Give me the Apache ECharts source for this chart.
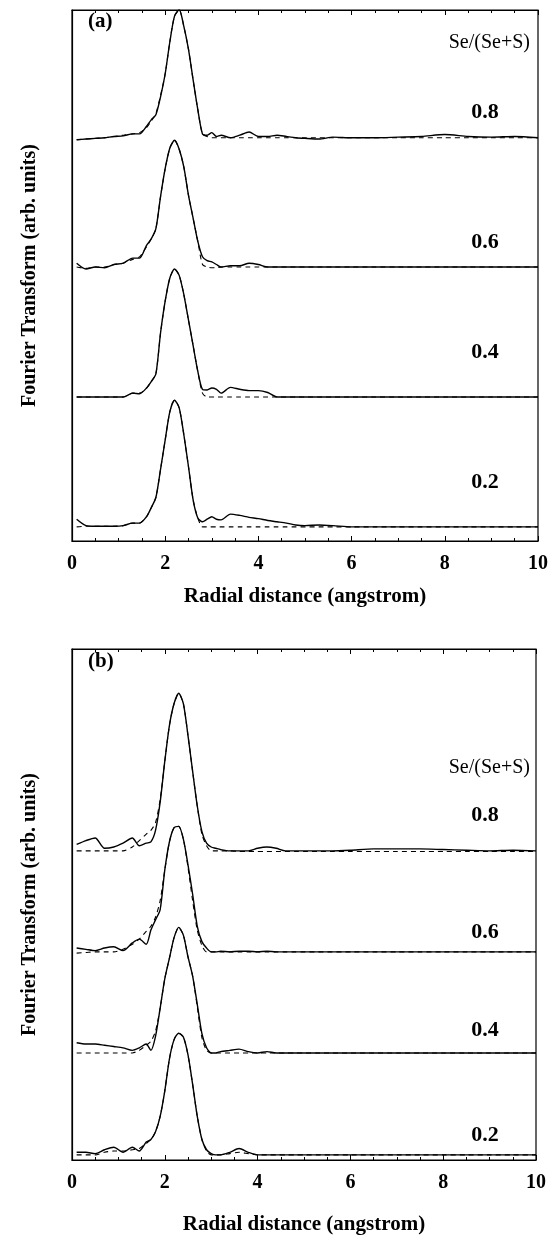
<!DOCTYPE html>
<html>
<head>
<meta charset="utf-8">
<script src="https://cdn.jsdelivr.net/npm/echarts@6/dist/echarts.min.js"></script>
<style>
html,body{margin:0;padding:0;background:#fff;}
#c{width:556px;height:1242px;}
</style>
</head>
<body>
<div id="c"></div>
<script>
// Radial distance grid (angstrom)
const R = [0.1,0.3,0.5,0.7,0.9,1.1,1.3,1.45,1.6,1.7,1.8,1.9,2.0,2.1,2.2,2.3,2.4,2.5,2.6,2.7,2.8,2.9,3.0,3.1,3.2,3.4,3.6,3.8,4.0,4.2,4.4,4.6,4.8,5.0,5.3,5.6,6.0,6.5,7.0,7.5,8.0,8.5,9.0,9.5,10.0];
const xTicks = [0,2,4,6,8,10];
const compositions = ['0.8','0.6','0.4','0.2'];

// Panel (a): FT magnitude (arb. units), data (solid) and fit (dashed)
const a08 = [-0.015,-0.01,-0.005,0.0,0.01,0.015,0.03,0.03,0.09,0.14,0.18,0.32,0.5,0.75,0.95,1.0,0.87,0.69,0.45,0.22,0.03,0.02,0.04,0.01,0.02,0.0,0.02,0.045,0.01,0.01,0.02,0.01,0.0,-0.005,-0.01,0.005,0.0,0.0,0.005,0.01,0.025,0.01,0.005,0.01,0.0];
const a08fit = [-0.015,-0.01,-0.005,0.0,0.01,0.02,0.03,0.04,0.08,0.13,0.19,0.33,0.5,0.75,0.95,1.0,0.87,0.69,0.45,0.22,0.03,0.01,0.0,0.0,0.0,0.0,0.0,0.0,0.0,0.0,0.0,0.0,0.0,0.0,0.0,0.0,0.0,0.0,0.0,0.0,0.0,0.0,0.0,0.0,0.0];
const a06 = [0.03,-0.015,0.0,-0.005,0.02,0.03,0.07,0.07,0.17,0.22,0.3,0.55,0.77,0.93,0.99,0.92,0.78,0.56,0.38,0.2,0.08,0.05,0.04,0.02,0.0,0.01,0.01,0.03,0.02,0.0,0.0,0.0,0.0,0.0,0.0,0.0,0.0,0.0,0.0,0.0,0.0,0.0,0.0,0.0,0.0];
const a06fit = [0.0,-0.01,0.0,0.0,0.02,0.03,0.06,0.08,0.16,0.22,0.3,0.55,0.77,0.93,0.99,0.92,0.78,0.56,0.38,0.2,0.02,0.0,-0.005,-0.005,0.0,0.0,0.0,0.0,0.0,0.0,0.0,0.0,0.0,0.0,0.0,0.0,0.0,0.0,0.0,0.0,0.0,0.0,0.0,0.0,0.0];
const a04 = [0.0,0.0,0.0,0.0,0.0,0.0,0.03,0.025,0.07,0.12,0.18,0.5,0.75,0.93,1.0,0.95,0.8,0.6,0.4,0.2,0.06,0.055,0.07,0.06,0.03,0.075,0.06,0.05,0.05,0.035,0.0,0.0,0.0,0.0,0.0,0.0,0.0,0.0,0.0,0.0,0.0,0.0,0.0,0.0,0.0];
const a04fit = [0.0,0.0,0.0,0.0,0.0,0.0,0.03,0.03,0.07,0.12,0.18,0.5,0.75,0.93,1.0,0.95,0.8,0.6,0.4,0.2,0.03,0.0,0.0,0.0,0.0,0.0,0.0,0.0,0.0,0.0,0.0,0.0,0.0,0.0,0.0,0.0,0.0,0.0,0.0,0.0,0.0,0.0,0.0,0.0,0.0];
const a02 = [0.06,0.01,0.005,0.005,0.005,0.01,0.03,0.03,0.08,0.15,0.23,0.45,0.68,0.9,0.99,0.93,0.72,0.47,0.21,0.07,0.04,0.06,0.08,0.06,0.055,0.1,0.09,0.075,0.065,0.05,0.04,0.03,0.015,0.01,0.015,0.01,0.0,0.0,0.0,0.0,0.0,0.0,0.0,0.0,0.0];
const a02fit = [0.0,0.005,0.005,0.005,0.005,0.01,0.03,0.03,0.08,0.15,0.23,0.45,0.68,0.9,0.99,0.93,0.72,0.47,0.21,0.07,0.0,0.0,0.0,0.0,0.0,0.0,0.0,0.0,0.0,0.0,0.0,0.0,0.0,0.0,0.0,0.0,0.0,0.0,0.0,0.0,0.0,0.0,0.0,0.0,0.0];
const aOffsets = [3.15,2.14,1.125,0.11];

// Panel (b)
const b08 = [0.05,0.08,0.1,0.02,0.03,0.06,0.1,0.04,0.06,0.07,0.16,0.38,0.7,0.98,1.15,1.23,1.15,0.9,0.62,0.35,0.15,0.06,0.03,0.02,0.01,0.0,0.0,0.0,0.02,0.03,0.02,0.0,0.0,0.0,0.0,0.0,0.005,0.015,0.015,0.015,0.01,0.005,0.0,0.005,0.0];
const b08fit = [0.0,0.0,0.0,0.0,0.0,0.0,0.03,0.08,0.13,0.16,0.22,0.4,0.7,0.98,1.15,1.23,1.15,0.9,0.62,0.35,0.13,0.04,0.0,0.0,0.0,0.0,-0.005,-0.005,-0.005,-0.005,-0.005,-0.005,-0.005,-0.005,-0.005,-0.005,-0.005,-0.005,-0.005,-0.005,-0.005,-0.005,-0.005,-0.005,-0.005];
const b06 = [0.03,0.02,0.01,0.03,0.04,0.01,0.07,0.1,0.06,0.17,0.25,0.33,0.64,0.86,0.97,0.98,0.88,0.68,0.45,0.2,0.08,0.03,0.0,0.0,0.005,0.0,0.005,0.005,0.0,0.005,0.0,0.0,0.0,0.0,0.0,0.0,0.0,0.0,0.0,0.0,0.0,0.0,0.0,0.0,0.0];
const b06fit = [-0.01,-0.005,0.0,0.0,0.0,0.02,0.06,0.1,0.16,0.2,0.27,0.4,0.64,0.86,0.97,0.98,0.88,0.66,0.4,0.17,0.05,0.0,0.0,0.0,0.0,0.0,0.0,0.0,0.0,0.0,0.0,0.0,0.0,0.0,0.0,0.0,0.0,0.0,0.0,0.0,0.0,0.0,0.0,0.0,0.0];
const b04 = [0.08,0.07,0.07,0.06,0.05,0.04,0.02,0.04,0.07,0.02,0.13,0.35,0.58,0.74,0.9,0.98,0.92,0.75,0.6,0.38,0.15,0.04,0.0,0.0,0.01,0.02,0.03,0.01,0.0,0.01,0.0,0.0,0.0,0.0,0.0,0.0,0.0,0.0,0.0,0.0,0.0,0.0,0.0,0.0,0.0];
const b04fit = [0.0,0.0,0.0,0.0,0.0,0.0,0.0,0.02,0.06,0.09,0.17,0.35,0.58,0.74,0.9,0.98,0.92,0.75,0.6,0.36,0.12,0.02,0.0,0.0,0.0,0.0,0.0,0.0,0.0,0.0,0.0,0.0,0.0,0.0,0.0,0.0,0.0,0.0,0.0,0.0,0.0,0.0,0.0,0.0,0.0];
const b02 = [0.02,0.02,0.01,0.04,0.06,0.02,0.06,0.03,0.1,0.12,0.18,0.3,0.5,0.75,0.9,0.95,0.92,0.78,0.55,0.3,0.12,0.04,0.01,0.0,0.0,0.02,0.05,0.02,0.0,0.0,0.0,0.0,0.0,0.0,0.0,0.0,0.0,0.0,0.0,0.0,0.0,0.0,0.0,0.0,0.0];
const b02fit = [0.0,0.0,0.0,0.02,0.03,0.03,0.04,0.05,0.09,0.12,0.18,0.3,0.5,0.75,0.9,0.95,0.92,0.78,0.55,0.3,0.12,0.03,0.0,0.0,0.0,0.01,0.02,0.01,0.0,0.0,0.0,0.0,0.0,0.0,0.0,0.0,0.0,0.0,0.0,0.0,0.0,0.0,0.0,0.0,0.0];
const bOffsets = [2.414,1.625,0.836,0.04];

const aData = [a08,a06,a04,a02], aFit = [a08fit,a06fit,a04fit,a02fit];
const bData = [b08,b06,b04,b02], bFit = [b08fit,b06fit,b04fit,b02fit];

const FONT = '"Liberation Serif", "DejaVu Serif", serif';
const chart = echarts.init(document.getElementById('c'), null, {renderer:'canvas'});

function mk(vals, off, grid, dashed){
  return {
    type:'line', xAxisIndex:grid*2, yAxisIndex:grid, symbol:'none', smooth:0.25,
    silent:true, animation:false,
    lineStyle:{color:'#000', width: dashed?1.1:1.4, type: dashed?[5,4]:'solid'},
    data: R.map((r,i)=>[r, vals[i]+off])
  };
}
const series = [];
for(let i=0;i<4;i++){
  series.push(mk(aFit[i], aOffsets[i], 0, true));
  series.push(mk(aData[i], aOffsets[i], 0, false));
  series.push(mk(bFit[i], bOffsets[i], 1, true));
  series.push(mk(bData[i], bOffsets[i], 1, false));
}

function xAx(grid, pos, labels, gap){
  return {
    type:'value', gridIndex:grid, position:pos, min:0, max:10, interval:2,
    axisLine:{show:true, lineStyle:{color:'#000', width:1.2}},
    axisTick:{show:true, inside:true, length:5, lineStyle:{color:'#000', width:1}},
    minorTick:{show:true, splitNumber:4, length:3, lineStyle:{color:'#000', width:1}},
    splitLine:{show:false},
    axisLabel:{show:labels, color:'#000', fontFamily:FONT, fontWeight:'bold', fontSize:20, margin:13,
      formatter:v=> xTicks.indexOf(v)>=0 ? String(v) : ''},
    name: labels ? 'Radial distance (angstrom)' : '',
    nameLocation:'middle', nameGap:gap||45,
    nameTextStyle:{color:'#000', fontFamily:FONT, fontWeight:'bold', fontSize:21}
  };
}
function yAx(grid, max){
  return {
    type:'value', gridIndex:grid, min:0, max:max,
    axisLine:{show:true, lineStyle:{color:'#000', width:1.2}},
    axisTick:{show:false}, axisLabel:{show:false}, splitLine:{show:false},
    name:'Fourier Transform (arb. units)', nameLocation:'middle', nameGap:32, nameRotate:90,
    nameTextStyle:{color:'#000', fontFamily:FONT, fontWeight:'bold', fontSize:20}
  };
}

const txt = (x,y,t,size,bold,align)=>({type:'text', x:x, y:y, silent:true,
  style:{text:t, fill:'#000', font:(bold?'bold ':'')+size+'px '+FONT, textAlign:align||'left', textVerticalAlign:'middle'}});

const graphics = [
  txt(88,22,'(a)',21,true),
  txt(530,43,'Se/(Se+S)',20,false,'right'),
  txt(88,662,'(b)',21,true),
  txt(530,768,'Se/(Se+S)',20,false,'right')
];
const aLabelY = [112,242,352,482], bLabelY = [815,932,1030,1135];
compositions.forEach((c,i)=>{
  graphics.push(txt(485,aLabelY[i],c,22,true,'center'));
  graphics.push(txt(485,bLabelY[i],c,22,true,'center'));
});

chart.setOption({
  animation:false,
  backgroundColor:'#fff',
  grid:[
    {left:72, top:10, width:466, height:531, show:true, borderColor:'#000', borderWidth:1.2, backgroundColor:'transparent'},
    {left:72, top:649, width:464, height:511, show:true, borderColor:'#000', borderWidth:1.2, backgroundColor:'transparent'}
  ],
  xAxis:[xAx(0,'bottom',true,45), xAx(0,'top',false), xAx(1,'bottom',true,54), xAx(1,'top',false)],
  yAxis:[yAx(0,4.148), yAx(1,3.99)],
  series: series,
  graphic: graphics
});
</script>
</body>
</html>
